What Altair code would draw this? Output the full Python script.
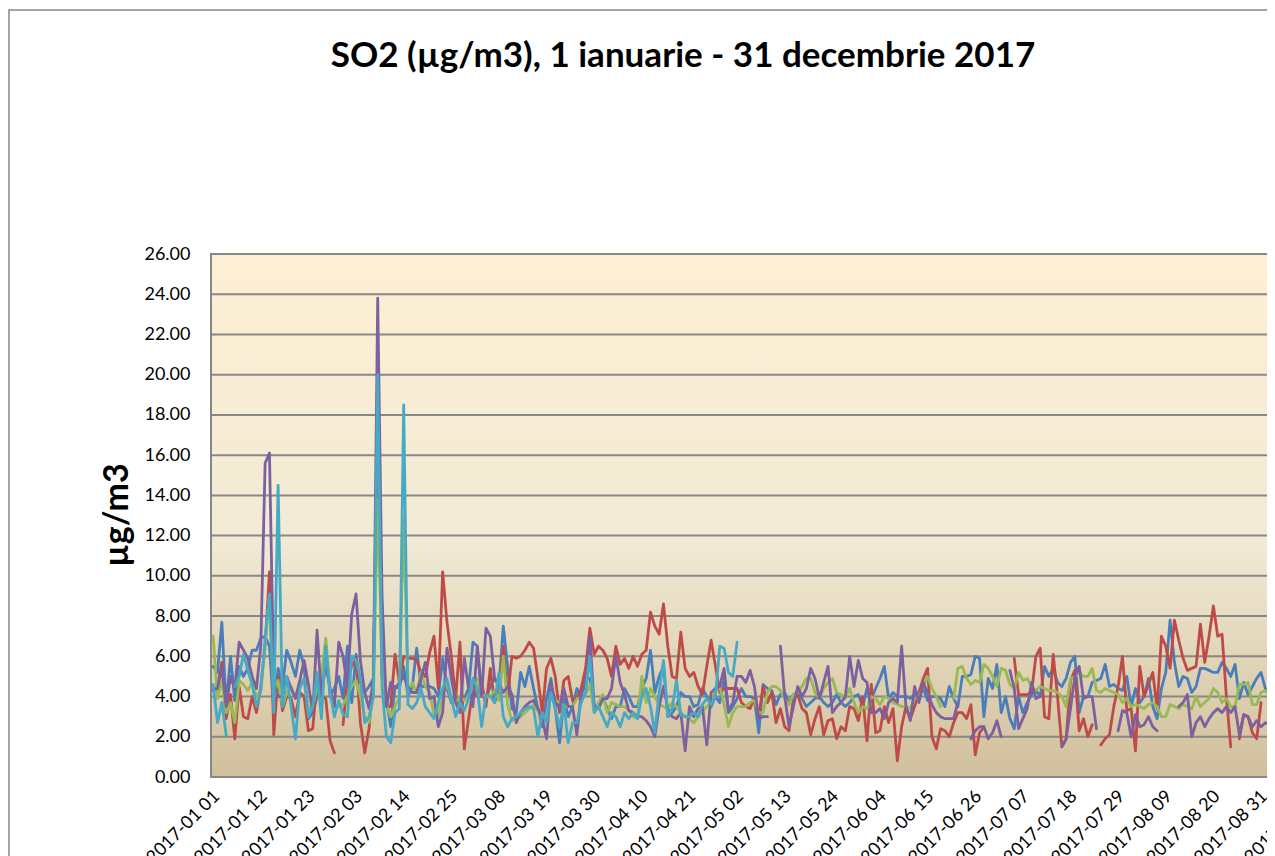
import altair as alt
import pandas as pd

# ---------------- data (one value per day from 2017-01-01, None = no data) ----------------
BLUE = [
    5.5, 5.2, 7.7, 3.5, 6.0, 3.8, 5.5, 5.0, 5.4, 6.3,
    6.3, 6.9, 7.0, 6.5, 3.2, 5.4, 4.5, 6.3, 5.7, 5.0,
    6.3, 5.5, 2.9, 3.2, 4.0, 4.9, 6.6, 4.0, 4.4, 5.0,
    3.9, 6.5, 3.7, 6.1, 4.7, 4.2, 4.5, 4.9, 17.0, 5.0,
    3.9, 2.5, 4.5, 4.4, 5.5, 4.0, 4.5, 6.4, 4.5, 4.5,
    4.5, 4.4, 4.0, 5.9, 4.4, 3.7, 4.0, 3.5, 3.9, 4.4,
    6.7, 6.5, 4.2, 3.9, 4.5, 4.9, 4.5, 7.5, 5.5, 3.4,
    3.2, 5.2, 4.5, 5.5, 4.4, 3.4, 2.5, 3.9, 4.9, 3.4,
    1.7, 3.9, 3.0, 3.5, 4.4, 4.0, 4.9, 4.9, 3.6, 3.5,
    4.0, 3.4, 2.9, 3.5, 3.5, 4.4, 4.0, 3.5, 3.5, 4.4,
    4.9, 6.3, 4.2, 5.0, 5.5, 3.0, 3.2, 3.5, 4.2, 4.0,
    4.0, 3.5, 3.6, 4.4, 4.0, 3.5, 4.0, 3.7, 4.9, 3.2,
    3.5, 3.9, 4.4, 4.0, 4.0, 3.9, 2.2, 4.6, 4.4, 4.3,
    3.6, 4.1, 4.2, 3.7, 4.1, 4.2, 3.9, 3.5, 3.7, 3.9,
    4.0, 3.7, 3.5, 3.7, 4.1, 3.7, 3.5, 3.7, 4.0, 4.1,
    3.5, 4.4, 3.9, 4.4, 4.9, 5.5, 3.9, 4.2, 4.0, 4.0,
    4.0, 3.9, 4.1, 4.0, 4.4, 3.8, 4.0, 4.0, 3.9, 3.5,
    4.5, 3.9, 3.5, 5.0, 5.0, 5.1, 6.0, 5.9, 3.0, 4.9,
    4.4, 5.6, 3.2, 4.0, 2.9, 2.4, 4.0, 3.2, 3.7, 4.1,
    4.3, 4.0, 5.5, 5.0, 5.4, 4.7, 4.5, 4.9, 5.7, 6.0,
    3.2, 4.0, 4.0, 4.7, 4.8, 4.9, 5.6, 4.5, 4.6, 4.4,
    4.3, 5.0, 3.5, 4.4, 3.7, 4.0, 4.9, 3.5, 2.9, 4.4,
    5.2, 7.8, 5.7, 4.5, 5.0, 4.9, 4.2, 4.5, 5.4, 5.4,
    5.3, 5.2, 5.2, 5.7, 5.4, 5.0, 5.6, 3.9, 4.7, 4.1,
    4.5, 4.9, 5.2, 4.4, 4.0, 5.2,
]

RED = [
    4.4, 4.5, 5.7, 2.9, 4.1, 1.9, 4.5, 3.0, 2.9, 4.0,
    3.2, 4.5, 6.5, 10.2, 2.1, 5.0, 3.3, 4.0, 3.9, 3.0,
    4.2, 4.0, 2.3, 2.4, 4.9, 4.0, 3.9, 1.8, 1.2, None,
    2.6, 4.9, 5.5, 5.9, 2.7, 1.2, 2.4, 4.9, 18.5, 5.0,
    3.5, 3.5, 6.1, 4.7, 6.0, 5.9, 5.9, 5.8, 5.2, 5.0,
    6.2, 7.0, 4.4, 10.2, 7.7, 6.0, 3.9, 6.7, 1.4, 2.9,
    4.4, 4.0, 4.7, 3.5, 5.4, 3.7, 4.4, 6.5, 4.0, 6.0,
    5.9, 6.0, 6.3, 6.7, 6.4, 4.9, 3.2, 5.4, 5.9, 5.0,
    3.2, 4.8, 5.0, 3.8, 3.9, 4.4, 5.4, 7.4, 6.1, 6.5,
    6.3, 5.9, 5.0, 6.5, 5.6, 5.9, 5.4, 6.0, 5.5, 6.1,
    6.3, 8.2, 7.5, 7.1, 8.6, 6.5, 5.0, 4.9, 7.2, 5.4,
    5.0, 5.2, 4.5, 4.1, 5.5, 6.8, 5.5, 4.2, 4.4, 4.4,
    4.4, 4.4, 3.7, 3.5, 3.4, 3.9, 3.0, 4.5, 3.7, 4.2,
    2.7, 3.4, 2.5, 2.3, 3.9, 4.1, 3.4, 3.2, 2.1, 2.9,
    3.5, 2.1, 2.8, 2.9, 1.9, 2.5, 2.3, 3.5, 3.4, 2.8,
    4.0, 1.8, 4.6, 2.2, 2.3, 3.5, 2.7, 3.4, 0.8, 2.5,
    3.5, 2.9, 3.5, 4.2, 4.9, 5.4, 2.0, 1.4, 2.4, 2.3,
    2.0, 2.7, 3.2, 3.2, 2.9, 3.6, 1.1, 2.2, 2.5, None,
    None, None, None, None, None, 5.9, 4.1, 4.1, 4.1, 4.2,
    6.0, 6.4, 3.0, 2.9, 6.1, 4.0, 1.5, 1.9, 4.8, 5.3,
    2.3, 2.9, 2.0, 2.6, None, 1.6, 1.9, 2.1, 3.5, 4.5,
    6.0, 3.3, 3.4, 1.3, 5.5, 4.0, 4.6, 5.2, 3.4, 7.0,
    6.5, 5.4, 7.8, 6.8, 5.9, 5.3, 5.4, 5.5, 7.6, 5.7,
    7.0, 8.5, 7.0, 7.1, 4.0, 1.5, None, 1.9, 3.1, 3.0,
    2.2, 1.9, 3.7,
]

GREEN = [
    7.0, 3.9, 4.8, 3.2, 3.7, 2.7, 4.8, 4.6, 4.3, 4.7,
    4.0, 4.3, 6.5, 9.0, 4.0, 4.8, 3.5, 4.2, 4.5, 4.0,
    4.6, 4.9, 3.4, 3.5, 4.5, 5.0, 6.9, 4.4, 3.6, 3.5,
    3.6, 4.0, 4.5, 4.8, 4.0, 3.0, 2.7, 4.0, 13.8, 5.0,
    3.6, 3.0, 3.5, 4.0, 12.9, 4.2, 4.7, 4.2, 5.2, 4.5,
    4.2, 3.1, 3.0, 4.0, 4.7, 3.8, 3.7, 4.0, 3.8, 4.0,
    4.5, 4.9, 4.1, 4.0, 4.0, 4.3, 3.8, 6.0, 3.6, 2.8,
    2.9, 3.0, 3.2, 3.4, 3.6, 3.3, 2.8, 3.0, 4.1, 3.8,
    3.7, 3.5, 3.5, 3.5, 3.9, 3.9, 4.1, 4.6, 3.2, 3.7,
    4.1, 3.2, 3.7, 3.6, 3.5, 3.5, 3.3, 3.0, 2.9, 5.0,
    3.7, 4.4, 4.0, 3.6, 3.5, 3.4, 3.7, 3.5, 3.2, 3.0,
    2.9, 2.7, 3.0, 3.3, 3.5, 3.7, 4.3, 4.5, 3.6, 2.5,
    3.2, 3.5, 3.5, 3.5, 3.7, 3.8, 3.2, 3.2, 4.2, 4.5,
    4.5, 4.3, 3.9, 3.6, 4.1, 4.2, 4.5, 4.9, 4.9, 4.2,
    3.9, 4.4, 4.7, 4.9, 4.2, 4.1, 3.9, 4.4, 3.7, 3.2,
    3.5, 3.4, 4.0, 3.9, 3.6, 4.0, 3.9, 3.7, 3.6, 3.5,
    3.5, 3.4, 3.9, 4.0, 4.5, 5.0, 4.4, 4.0, 3.5, None,
    None, 3.9, 5.4, 5.5, 4.9, 4.6, 4.8, 4.7, 5.6, 5.4,
    5.0, 4.5, 5.4, 5.3, 4.6, 4.4, 5.2, 4.8, 4.9, 4.5,
    4.3, 4.5, 4.4, 4.3, 4.3, 4.2, 4.0, 3.5, 4.9, 5.0,
    5.2, 5.0, 5.0, 5.4, 4.3, 4.2, 4.4, 4.3, 4.2, 4.1,
    3.7, 3.9, 3.5, 3.6, 3.5, 3.4, 3.6, 3.7, 3.5, 3.0,
    3.0, 3.6, 3.5, 3.4, 3.6, 3.5, 3.4, 4.0, 3.5, 3.7,
    3.9, 4.4, 4.2, 3.7, 3.9, 3.5, 3.5, 4.6, 4.6, 4.7,
    3.6, 3.6, 4.2, 4.3, 4.1, 3.7,
]

PURPLE = [
    4.3, 4.4, 5.5, 3.5, 5.0, 4.4, 6.7, 6.3, 5.9, 5.0,
    4.4, 6.5, 15.6, 16.1, 4.7, 4.0, 4.0, 5.0, 4.4, 3.9,
    4.8, 5.8, 4.6, 3.2, 7.3, 4.0, 5.6, 4.4, 3.5, 6.7,
    6.0, 4.5, 8.1, 9.1, 5.8, 4.2, 3.4, 4.8, 23.8, 9.0,
    3.5, 4.7, 4.4, 4.7, 5.0, 4.5, 4.2, 4.2, 4.9, 5.7,
    3.9, 4.0, 2.5, 3.2, 6.4, 4.9, 3.7, 3.2, 5.9, 4.4,
    3.5, 6.5, 4.0, 7.4, 7.0, 4.9, 4.7, 4.2, 4.5, 4.1,
    2.7, 3.2, 3.5, 3.7, 3.8, 3.4, 2.9, 1.9, 4.7, 3.7,
    3.4, 4.4, 3.5, 3.5, 2.1, 4.2, 4.5, 7.0, 3.5, 3.4,
    3.9, 3.9, 4.4, 6.0, 4.7, 4.1, 3.3, 3.2, 3.0, 3.0,
    2.8, 2.5, 2.0, 3.5, 4.5, 3.4, 3.0, 2.9, 3.2, 1.3,
    3.5, 3.0, 3.4, 3.5, 1.6, 4.2, 4.4, 4.5, 5.4, 3.3,
    3.7, 5.0, 5.0, 4.7, 5.3, 4.5, 2.9, 3.0, 3.0, None,
    None, 6.5, 4.0, 2.5, 3.5, 4.5, 4.0, 4.4, 5.4, 4.9,
    3.9, 4.7, 5.5, 3.2, 3.5, 3.7, 4.0, 6.0, 4.5, 5.8,
    4.9, 4.7, 3.2, 3.2, 3.4, 2.9, 3.7, 3.9, 3.7, 6.5,
    3.5, 2.8, 4.5, 3.7, 4.7, 4.2, 3.6, 3.2, 3.0, 2.9,
    2.9, 2.9, 3.7, None, None, 1.9, 2.3, 2.5, 2.5, 1.9,
    2.2, 2.8, 2.0, None, 5.3, 4.4, 2.4, 2.9, 3.4, 4.7,
    3.9, 4.0, None, None, None, None, 1.5, 1.9, 3.4, 5.0,
    5.5, 3.9, 4.0, 4.0, 2.4, None, None, None, None, 2.3,
    3.3, 3.2, 2.0, 3.1, 2.5, 2.6, 3.0, 2.5, 2.3, None,
    None, None, None, 3.5, 3.7, 4.1, 2.0, 2.7, 3.0, 2.5,
    2.9, 3.2, 3.4, 3.2, 3.5, 3.2, 3.5, 2.1, 3.1, 3.0,
    2.5, 2.8, 2.5, 2.7, 2.6, 3.5,
]

CYAN = [
    4.6, 2.7, 3.7, 2.1, None, 4.5, 5.0, 6.1, 5.3, 4.6,
    3.5, 4.3, 6.9, 9.1, 3.2, 14.5, 3.5, 5.0, 3.5, 1.9,
    4.4, 4.9, 3.0, 3.5, 5.2, 2.9, 6.5, 4.2, 3.0, 3.8,
    3.1, 3.0, 6.0, 5.8, 4.9, 2.7, 3.0, 4.0, 20.0, 4.5,
    2.0, 1.7, 3.2, 3.4, 18.5, 3.6, 3.4, 3.7, 4.4, 3.5,
    3.2, 2.9, 3.7, 4.4, 4.9, 3.9, 3.0, 3.7, 3.3, 3.9,
    4.9, 4.4, 2.5, 4.1, 4.0, 3.7, 5.2, 3.0, 2.5, 2.9,
    3.0, 3.2, 3.4, 3.5, 3.4, 2.0, 3.2, 2.7, 4.2, 3.4,
    2.5, 3.6, 1.7, 2.7, 2.7, 3.7, 4.2, 6.0, 3.2, 3.5,
    3.0, 2.5, 3.2, 3.0, 2.5, 3.2, 2.9, 3.2, 2.9, 4.0,
    4.4, 3.5, 2.2, 4.2, 5.8, 3.0, 3.4, 4.8, 3.1, 3.0,
    3.0, 3.2, 3.0, 3.6, 3.9, 3.6, 4.0, 6.5, 6.4, 5.2,
    5.0, 6.7,
]

TICK_LABELS = [
    "2017-01 01", "2017-01 12", "2017-01 23", "2017-02 03", "2017-02 14",
    "2017-02 25", "2017-03 08", "2017-03 19", "2017-03 30", "2017-04 10",
    "2017-04 21", "2017-05 02", "2017-05 13", "2017-05 24", "2017-06 04",
    "2017-06 15", "2017-06 26", "2017-07 07", "2017-07 18", "2017-07 29",
    "2017-08 09", "2017-08 20", "2017-08 31",
]
# next category label, only its start is visible at the right edge
EDGE_LABEL = "2017-09 11"
Y_TICKS = [0, 2, 4, 6, 8, 10, 12, 14, 16, 18, 20, 22, 24, 26]

TITLE = "SO2 (µg/m3), 1 ianuarie - 31 decembrie 2017"
Y_TITLE = "µg/m3"

# ---------------- layout / style ----------------
W, H = 1056, 523          # plot area; page width limits the whole chart to 1259 px
PX_PER_DAY = 4.33
FONT = "Lato"
GRAY = "#878787"


def day_of(label):
    return int((pd.Timestamp(label[:7] + "-" + label[8:]) - pd.Timestamp("2017-01-01")).days)


tick_days = [day_of(t) for t in TICK_LABELS]
label_expr = (
    "[" + ",".join("'" + t + "'" for t in TICK_LABELS) + "][indexof(["
    + ",".join(str(d) for d in tick_days) + "], datum.value)]"
)

xscale = alt.Scale(domain=[-0.5, -0.5 + W / PX_PER_DAY], nice=False, zero=False)
yscale = alt.Scale(domain=[0, 26], nice=False, zero=True)

x_axis = alt.Axis(
    values=tick_days, labelExpr=label_expr, labelAngle=-45, labelFont=FONT,
    labelFontSize=18, labelColor="#000000", labelPadding=10, labelOffset=-3,
    labelOverlap=False, labelFlush=False, ticks=False, domain=False,
    grid=False, title=None,
)
y_axis = alt.Axis(
    values=Y_TICKS, format=".2f", labelFont=FONT, labelFontSize=18,
    labelColor="#000000", labelPadding=21, ticks=False, domain=False,
    grid=False, title=None,
)

one = pd.DataFrame({"k": [0]})

bg = alt.Chart(one).mark_rect(
    fill=alt.LinearGradient(
        gradient="linear", x1=0, x2=0, y1=0, y2=1,
        stops=[
            alt.GradientStop(color="#FDEFD3", offset=0),
            alt.GradientStop(color="#F2EAD5", offset=0.55),
            alt.GradientStop(color="#D0BF9B", offset=1),
        ],
    ),
    stroke=GRAY, strokeWidth=2,
).encode(x=alt.value(0), x2=alt.value(W + 30), y=alt.value(0), y2=alt.value(H))

grid = alt.Chart(pd.DataFrame({"v": Y_TICKS})).mark_rule(
    color=GRAY, strokeWidth=2
).encode(y=alt.Y("v:Q", scale=yscale, axis=y_axis))

series = [
    (BLUE, "#4A7EBB"),
    (RED, "#BE4B48"),
    (GREEN, "#98B954"),
    (PURPLE, "#7D60A0"),
    (CYAN, "#46AAC5"),
]
lines = []
for vals, col in series:
    df = pd.DataFrame({"day": list(range(len(vals))), "value": vals})
    lines.append(
        alt.Chart(df).mark_line(
            color=col, strokeWidth=2.8, strokeJoin="round", strokeCap="round",
            clip=True, invalid="break-paths-show-domains",
        ).encode(
            x=alt.X("day:Q", scale=xscale, axis=x_axis),
            y=alt.Y("value:Q", scale=yscale, axis=y_axis),
        )
    )

edge_label = alt.Chart(pd.DataFrame({"day": [day_of(EDGE_LABEL)], "t": [EDGE_LABEL]})).mark_text(
    font=FONT, fontSize=18, color="#000000", align="right", baseline="top", angle=315,
).encode(
    x=alt.X("day:Q", scale=xscale, axis=x_axis),
    y=alt.value(H + 10), text="t:N",
)

title = alt.Chart(one).mark_text(
    text=TITLE, font=FONT, fontSize=35, fontWeight="bold", color="#000000",
    align="center", baseline="middle",
).encode(x=alt.value(683 - 211), y=alt.value(56 - 254))

ytitle = alt.Chart(one).mark_text(
    text=Y_TITLE, font=FONT, fontSize=34, fontWeight="bold", color="#000000",
    align="center", baseline="middle", angle=270,
).encode(x=alt.value(118 - 211), y=alt.value(515 - 254))

border = alt.Chart(one).mark_rect(
    filled=False, stroke=GRAY, strokeWidth=1.5
).encode(x=alt.value(-202), x2=alt.value(W + 50), y=alt.value(-244), y2=alt.value(H + 200))

chart = alt.layer(bg, grid, *lines, edge_label, title, ytitle, border).properties(
    width=W, height=H,
    autosize=alt.AutoSizeParams(type="none"),
    padding={"left": 203, "top": 246, "right": 0, "bottom": 79},
    background="#FFFFFF",
).configure_view(stroke=None)

chart.save("out.html", embed_options={"renderer": "svg", "actions": False})
